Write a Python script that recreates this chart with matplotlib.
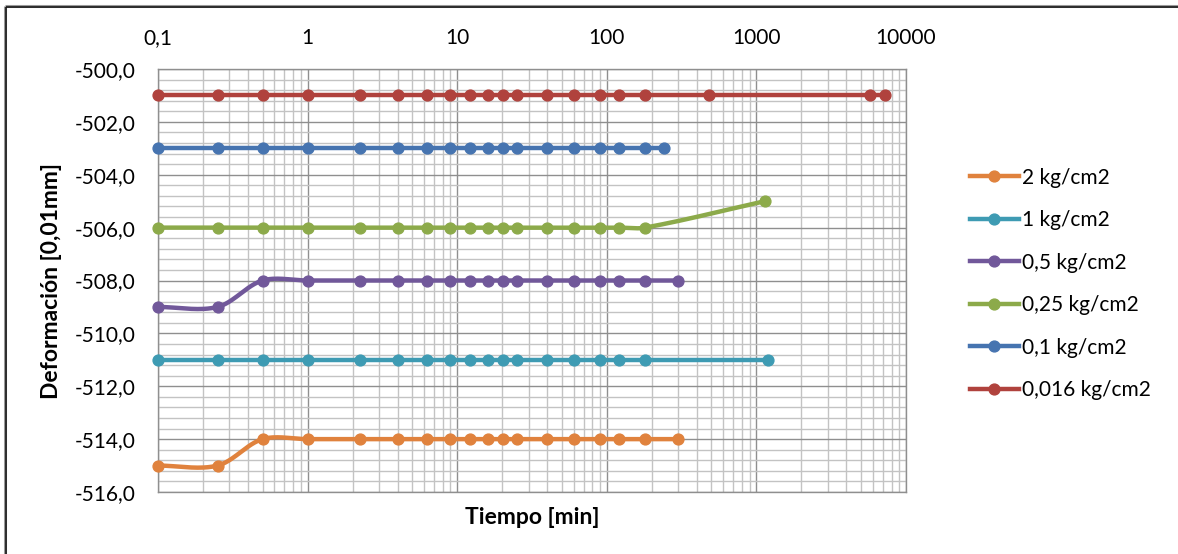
import matplotlib
matplotlib.use("Agg")
import matplotlib.pyplot as plt
import numpy as np
from matplotlib.ticker import MultipleLocator, FuncFormatter, LogLocator, FixedLocator
from matplotlib.lines import Line2D

# Consolidation readings: time [min] vs dial deformation [0,01 mm]
time_2 = [0.1, 0.25, 0.5, 1, 2.25, 4, 6.25, 9, 12.25, 16, 20.25, 25, 40, 60, 90, 120, 180, 300]
def_2 = [-515, -515, -514, -514, -514, -514, -514, -514, -514, -514, -514, -514, -514, -514, -514, -514, -514, -514]

time_1 = [0.1, 0.25, 0.5, 1, 2.25, 4, 6.25, 9, 12.25, 16, 20.25, 25, 40, 60, 90, 120, 180, 1200]
def_1 = [-511, -511, -511, -511, -511, -511, -511, -511, -511, -511, -511, -511, -511, -511, -511, -511, -511, -511]

time_05 = [0.1, 0.25, 0.5, 1, 2.25, 4, 6.25, 9, 12.25, 16, 20.25, 25, 40, 60, 90, 120, 180, 300]
def_05 = [-509, -509, -508, -508, -508, -508, -508, -508, -508, -508, -508, -508, -508, -508, -508, -508, -508, -508]

time_025 = [0.1, 0.25, 0.5, 1, 2.25, 4, 6.25, 9, 12.25, 16, 20.25, 25, 40, 60, 90, 120, 180, 1140]
def_025 = [-506, -506, -506, -506, -506, -506, -506, -506, -506, -506, -506, -506, -506, -506, -506, -506, -506, -505]

time_01 = [0.1, 0.25, 0.5, 1, 2.25, 4, 6.25, 9, 12.25, 16, 20.25, 25, 40, 60, 90, 120, 180, 240]
def_01 = [-503, -503, -503, -503, -503, -503, -503, -503, -503, -503, -503, -503, -503, -503, -503, -503, -503, -503]

time_0016 = [0.1, 0.25, 0.5, 1, 2.25, 4, 6.25, 9, 12.25, 16, 20.25, 25, 40, 60, 90, 120, 180, 480, 5760, 7200]
def_0016 = [-501, -501, -501, -501, -501, -501, -501, -501, -501, -501, -501, -501, -501, -501, -501, -501, -501, -501, -501, -501]

series_labels = ["2 kg/cm2", "1 kg/cm2", "0,5 kg/cm2", "0,25 kg/cm2", "0,1 kg/cm2", "0,016 kg/cm2"]
series_colors = ["#E0823D", "#3E9BB3", "#71589A", "#8CAA4A", "#4674B0", "#B0423D"]
series_data = [(time_2, def_2), (time_1, def_1), (time_05, def_05),
               (time_025, def_025), (time_01, def_01), (time_0016, def_0016)]

x_ticks = [0.1, 1, 10, 100, 1000, 10000]

FONT = "Lato"
FS = 15
FS_TITLE = 16.5
W, H = 1178, 554

fig = plt.figure(figsize=(W / 100, H / 100), dpi=100)
ax = fig.add_axes([158 / W, 1 - 492 / H, (906 - 158) / W, (492 - 69) / H])

ax.set_xscale("log")
ax.set_xlim(0.1, 10000)
ax.set_ylim(-516, -500)

ax.xaxis.set_major_locator(FixedLocator(x_ticks))
ax.xaxis.set_minor_locator(LogLocator(base=10, subs=np.arange(2, 10), numticks=30))
ax.xaxis.set_major_formatter(FuncFormatter(lambda v, p: ("%g" % v).replace(".", ",")))
ax.yaxis.set_major_locator(MultipleLocator(2))
ax.yaxis.set_minor_locator(MultipleLocator(0.4))
ax.yaxis.set_major_formatter(FuncFormatter(lambda v, p: ("%.1f" % v).replace(".", ",")))

ax.xaxis.tick_top()
ax.tick_params(which="both", length=0)
ax.tick_params(axis="x", which="major", pad=15, labelsize=FS)
ax.tick_params(axis="y", which="major", pad=16, labelsize=FS)
for lab in ax.get_xticklabels() + ax.get_yticklabels():
    lab.set_fontfamily(FONT)
    lab.set_color("#000000")

ax.grid(which="minor", color="#c3c3c3", lw=1.0)
ax.grid(which="major", color="#8f8f8f", lw=1.0)
ax.set_axisbelow(True)
for s in ax.spines.values():
    s.set_color("#8f8f8f")
    s.set_linewidth(1.0)


def smooth_curve(xs, ys, n=30):
    """Bezier smoothing in display space, like a spreadsheet's smoothed line."""
    P = ax.transData.transform(np.column_stack([xs, ys]))
    d = np.hypot(*np.diff(P, axis=0).T)
    m = np.zeros_like(P)
    m[0] = (P[1] - P[0]) / d[0]
    m[-1] = (P[-1] - P[-2]) / d[-1]
    for i in range(1, len(P) - 1):
        m[i] = (P[i + 1] - P[i - 1]) / (d[i - 1] + d[i])
    t = np.linspace(0, 1, n)[:, None]
    pts = [P[:1]]
    for i in range(len(P) - 1):
        c0 = P[i]
        c1 = P[i] + m[i] * d[i] / 3
        c2 = P[i + 1] - m[i + 1] * d[i] / 3
        c3 = P[i + 1]
        b = ((1 - t) ** 3) * c0 + 3 * ((1 - t) ** 2) * t * c1 + 3 * (1 - t) * t ** 2 * c2 + t ** 3 * c3
        pts.append(b[1:])
    pts = np.vstack(pts)
    out = ax.transData.inverted().transform(pts)
    return out[:, 0], out[:, 1]


handles = []
for (tx, dy), col, lab in zip(series_data, series_colors, series_labels):
    cx, cy = smooth_curve(tx, dy)
    ax.plot(cx, cy, color=col, lw=3.2, solid_capstyle="round", solid_joinstyle="round",
            clip_on=False, zorder=3)
    ax.plot(tx, dy, "o", color=col, ms=7.8, clip_on=False, zorder=4)
    handles.append(Line2D([], [], color=col, lw=3.2, marker="o", ms=7.8, label=lab))

fig.legend(handles=handles, loc="upper left", bbox_to_anchor=(970 / W, 1 - 167.5 / H),
           frameon=False, borderpad=0, borderaxespad=0, handlelength=2.35,
           handletextpad=0.15, labelspacing=1.08, prop={"family": FONT, "size": FS})

fig.text(52 / W, 1 - 281 / H, "Deformación [0,01mm]", rotation=90, ha="center", va="center",
         fontsize=FS_TITLE, fontweight="bold", family=FONT)
fig.text(532 / W, 1 - 517 / H, "Tiempo [min]", ha="center", va="center",
         fontsize=FS_TITLE, fontweight="bold", family=FONT)

# chart frame (top and left edges)
fig.add_artist(Line2D([5 / W, 5 / W], [0, 1 - 6 / H], color="#9a9a9a", lw=2.2,
                      solid_capstyle="butt", transform=fig.transFigure))
fig.add_artist(Line2D([5 / W, 1], [1 - 6 / H, 1 - 6 / H], color="#9a9a9a", lw=2.2,
                      solid_capstyle="butt", transform=fig.transFigure))
fig.add_artist(Line2D([5.5 / W, 5.5 / W], [0, 1 - 6.5 / H], color="#1a1a1a", lw=1.2,
                      solid_capstyle="butt", transform=fig.transFigure))
fig.add_artist(Line2D([5.5 / W, 1], [1 - 6.5 / H, 1 - 6.5 / H], color="#1a1a1a", lw=1.2,
                      solid_capstyle="butt", transform=fig.transFigure))

fig.savefig("out.png", dpi=100)
